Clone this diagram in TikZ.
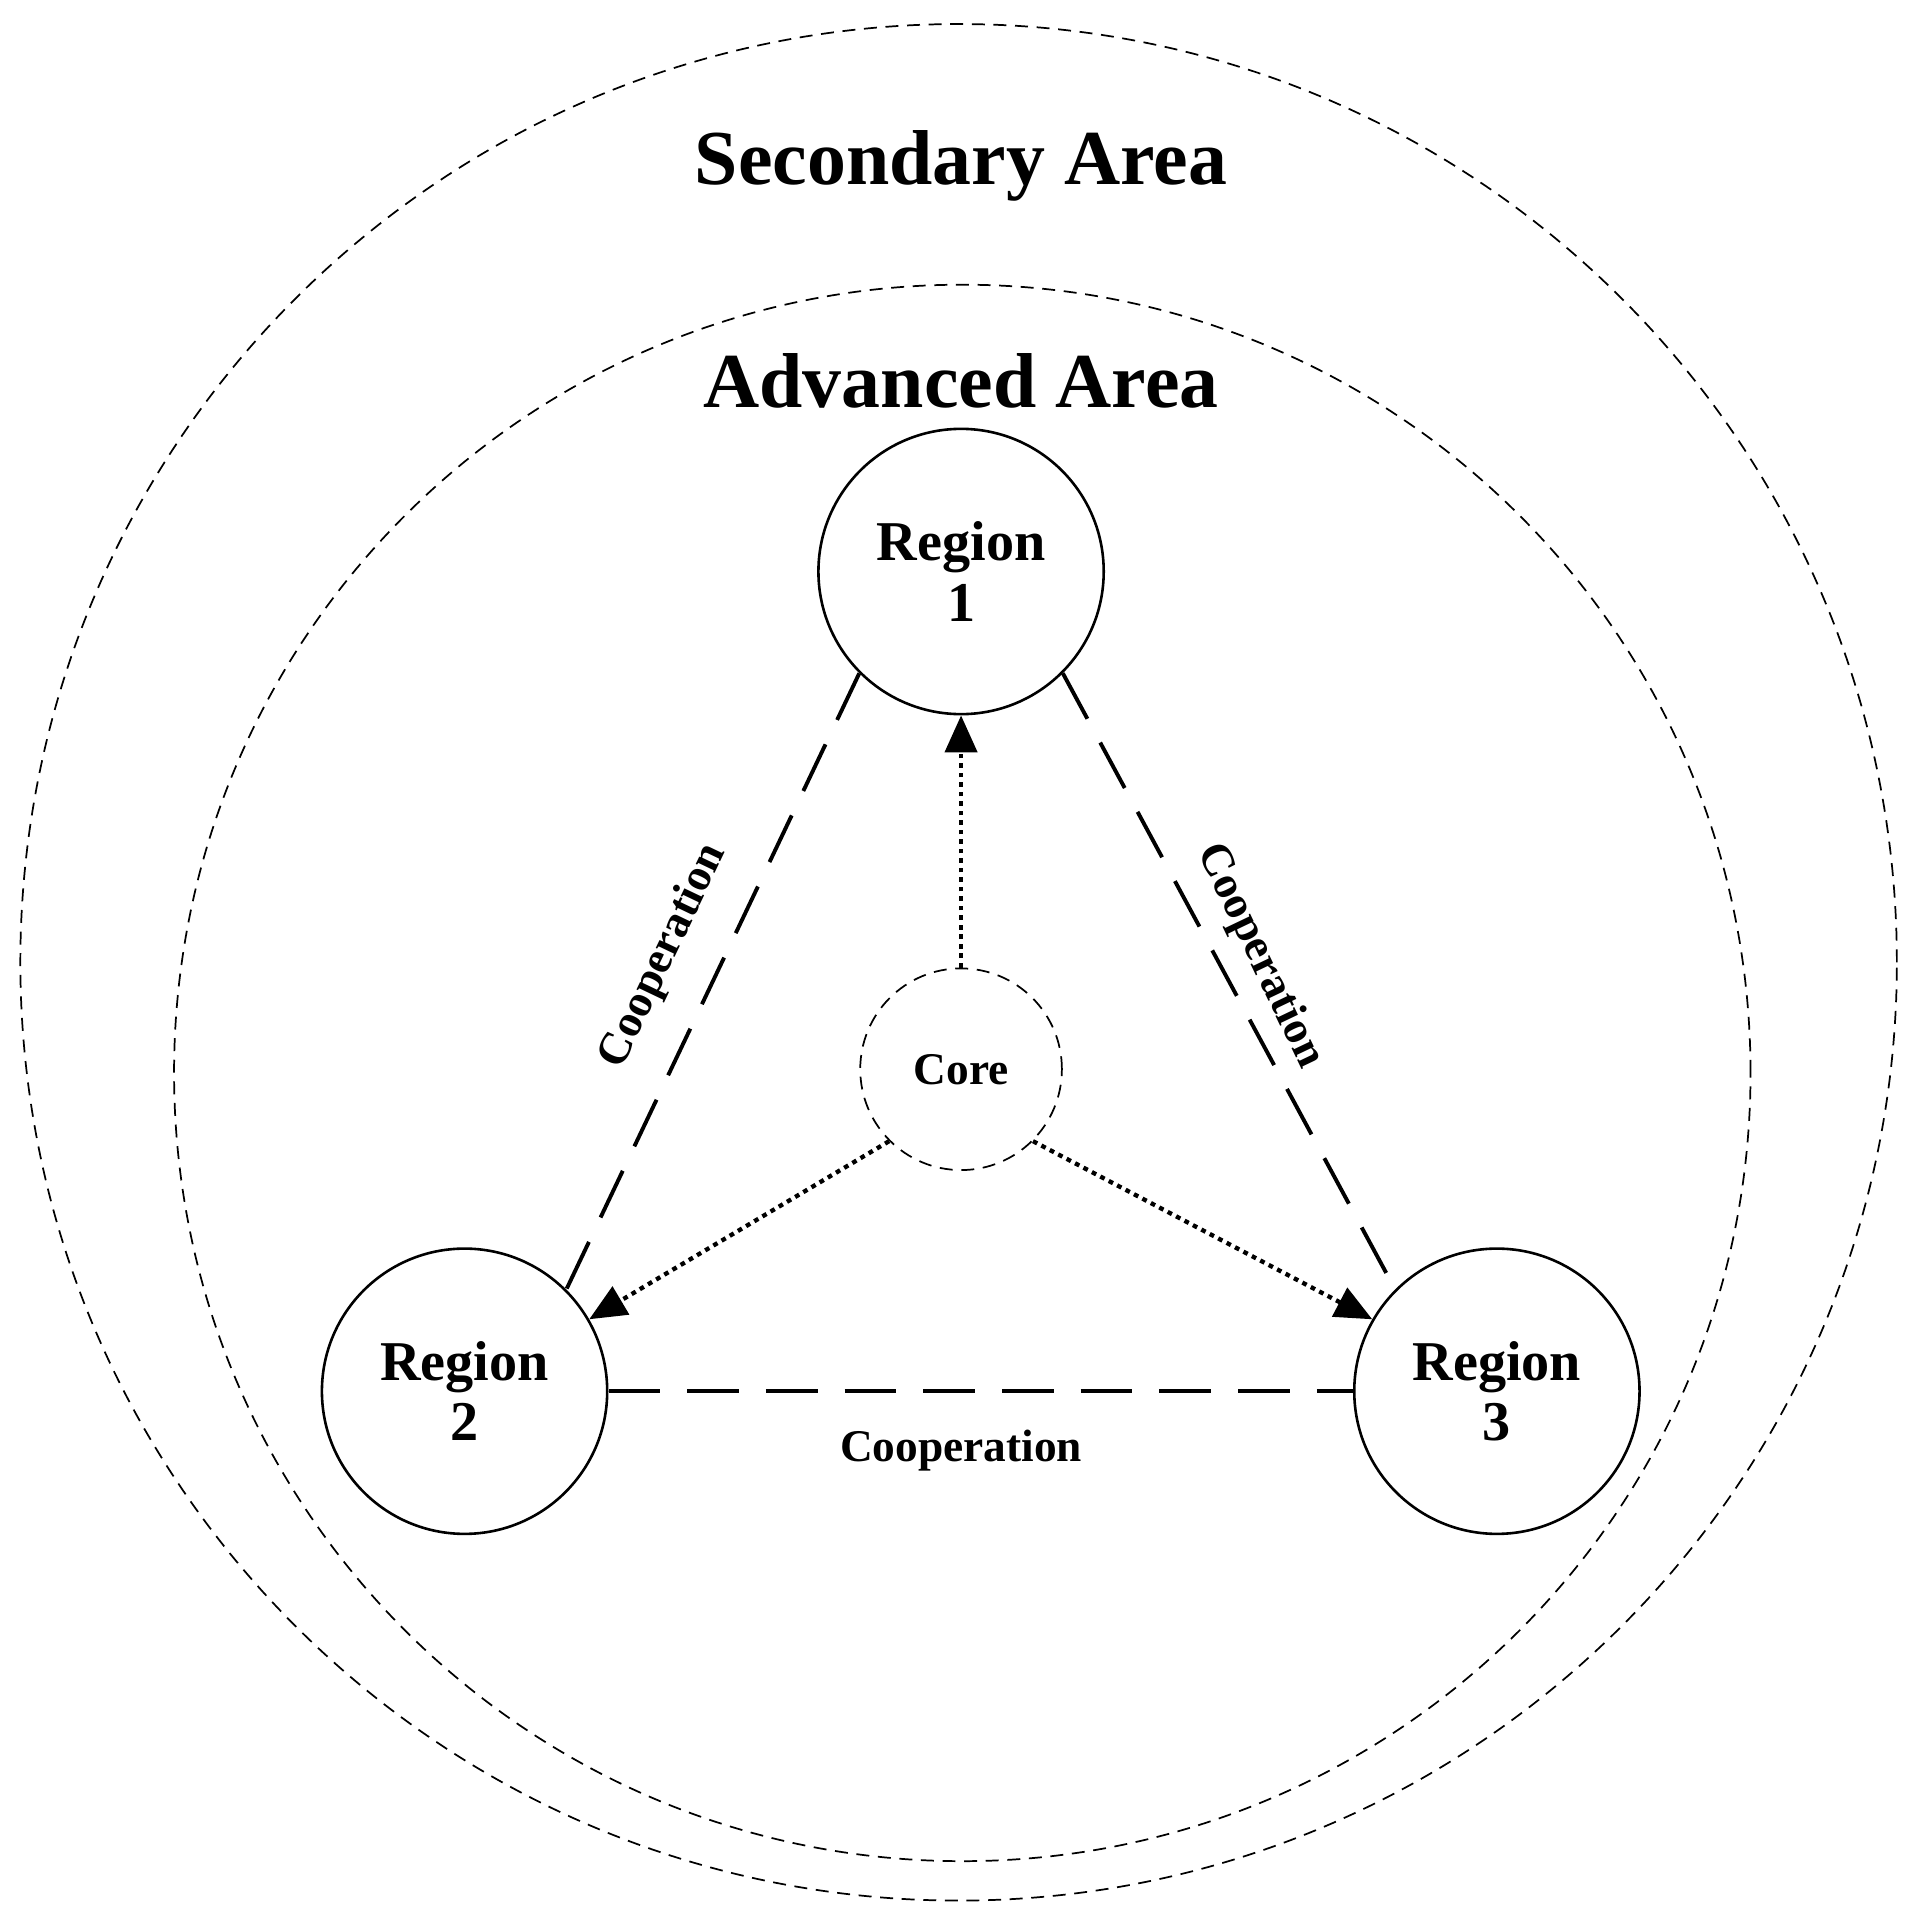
\documentclass[tikz,border=0pt]{standalone}
\usepackage{fontspec}
\setmainfont{Liberation Serif}
\usetikzlibrary{arrows.meta}
\begin{document}
\begin{tikzpicture}[x=0.01cm,y=-0.01cm,
  reg/.style={circle,draw,line width=0.6pt,minimum size=2.32cm,inner sep=0pt,align=center,font=\fontsize{13}{14}\selectfont\bfseries},
  coop/.style={line width=0.9pt,dash pattern=on 0.42cm off 0.22cm},
  flow/.style={line width=1pt,dash pattern=on 1.1pt off 1.1pt,-{Triangle[length=0.3cm,width=0.26cm]}},
  lab/.style={font=\fontsize{10.5}{12}\selectfont\bfseries}]
\useasboundingbox (0,0) rectangle (1556,1559);
\node[circle,draw,densely dashed,line width=0.4pt,minimum size=15.26cm,inner sep=0pt] (outer) at (780,783) {};
\node[circle,draw,densely dashed,line width=0.4pt,minimum size=12.82cm,inner sep=0pt] (inner) at (783,873) {};
\node[font=\fontsize{18}{20}\selectfont\bfseries] (sec) at (782,135) {Secondary Area};
\node[font=\fontsize{18}{20}\selectfont\bfseries] (adv) at (782,310) {Advanced Area};
\node[reg] (r1) at (782,465) {Region\\1};
\node[reg] (r2) at (378,1132) {Region\\2};
\node[reg] (r3) at (1218,1132) {Region\\3};
\node[circle,draw,densely dashed,line width=0.4pt,minimum size=1.64cm,inner sep=0pt,font=\fontsize{10.5}{12}\selectfont\bfseries] (core) at (782,870) {Core};
\draw[coop] (r1.south west) -- (r2.north east);
\draw[coop] (r1.south east) -- (r3.north west);
\draw[coop] (r2.east) -- (r3.west);
\draw[flow] (core) -- (r1);
\draw[flow] (core.south west) -- (r2.30);
\draw[flow] (core.south east) -- (r3.150);
\node[lab,rotate=64.5] (c1) at (540,778) {Cooperation};
\node[lab,rotate=-64.5] (c2) at (1025,778) {Cooperation};
\node[lab] (c3) at (782,1180) {Cooperation};
\end{tikzpicture}
\end{document}
